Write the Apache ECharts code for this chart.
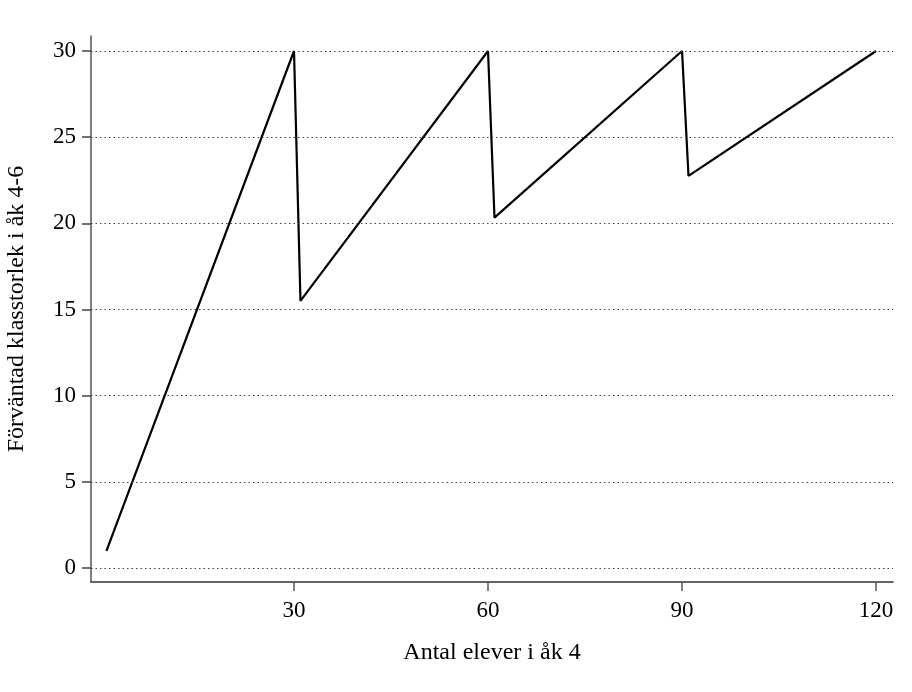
<!DOCTYPE html>
<html>
<head>
<meta charset="utf-8">
<script src="https://cdn.jsdelivr.net/npm/echarts@6/dist/echarts.min.js"></script>
<style>html,body{margin:0;padding:0;background:#fff}#c{width:912px;height:692px}</style>
</head>
<body>
<div id="c"></div>
<script>
// Vertices of the expected class-size curve
const xValues = [1, 30, 31, 60, 61, 90, 91, 120];
const yValues = [1, 30, 15.5, 30, 20.33, 30, 22.75, 30];
const xTicks = [30, 60, 90, 120];
const yTicks = [0, 5, 10, 15, 20, 25, 30];
const xTitle = 'Antal elever i åk 4';
const yTitle = 'Förväntad klasstorlek i åk 4-6';

const font = 'Liberation Serif';
const fs = 23;
const fsTitle = 24;
const chart = echarts.init(document.getElementById('c'), null, {renderer: 'canvas'});
chart.setOption({
  animation: false,
  backgroundColor: '#fff',
  grid: {left: 91, right: 19, top: 36, bottom: 110, containLabel: false, outerBoundsMode: 'none'},
  xAxis: {
    type: 'value', min: -1.39, max: 122.62,
    name: xTitle, nameLocation: 'middle', nameGap: 59,
    nameTextStyle: {fontFamily: font, fontSize: fsTitle, color: '#000'},
    axisLine: {show: true, onZero: false, lineStyle: {color: '#333', width: 1.5}},
    axisTick: {show: true, customValues: xTicks, length: 9, lineStyle: {color: '#555', width: 1.5}},
    axisLabel: {customValues: xTicks, margin: 17, fontFamily: font, fontSize: fs, color: '#000'},
    splitLine: {show: false}
  },
  yAxis: {
    type: 'value', min: -0.81, max: 30.87,
    name: yTitle, nameLocation: 'middle', nameGap: 62, nameRotate: 90,
    nameTextStyle: {fontFamily: font, fontSize: fsTitle, color: '#000'},
    axisLine: {show: true, onZero: false, lineStyle: {color: '#555', width: 1.5}},
    axisTick: {show: true, customValues: yTicks, length: 9, lineStyle: {color: '#444', width: 1.5}},
    axisLabel: {customValues: yTicks, margin: 15, fontFamily: font, fontSize: fs, color: '#000'},
    splitLine: {show: false}
  },
  series: [
    {
      type: 'line',
      data: xValues.map((x, i) => [x, yValues[i]]),
      showSymbol: false,
      lineStyle: {color: '#000', width: 2.2},
      silent: true,
      markLine: {
        silent: true, symbol: 'none', label: {show: false},
        lineStyle: {type: [1.5, 3], color: '#444', width: 1.2},
        data: yTicks.map(v => ({yAxis: v}))
      }
    }
  ]
});
</script>
</body>
</html>
